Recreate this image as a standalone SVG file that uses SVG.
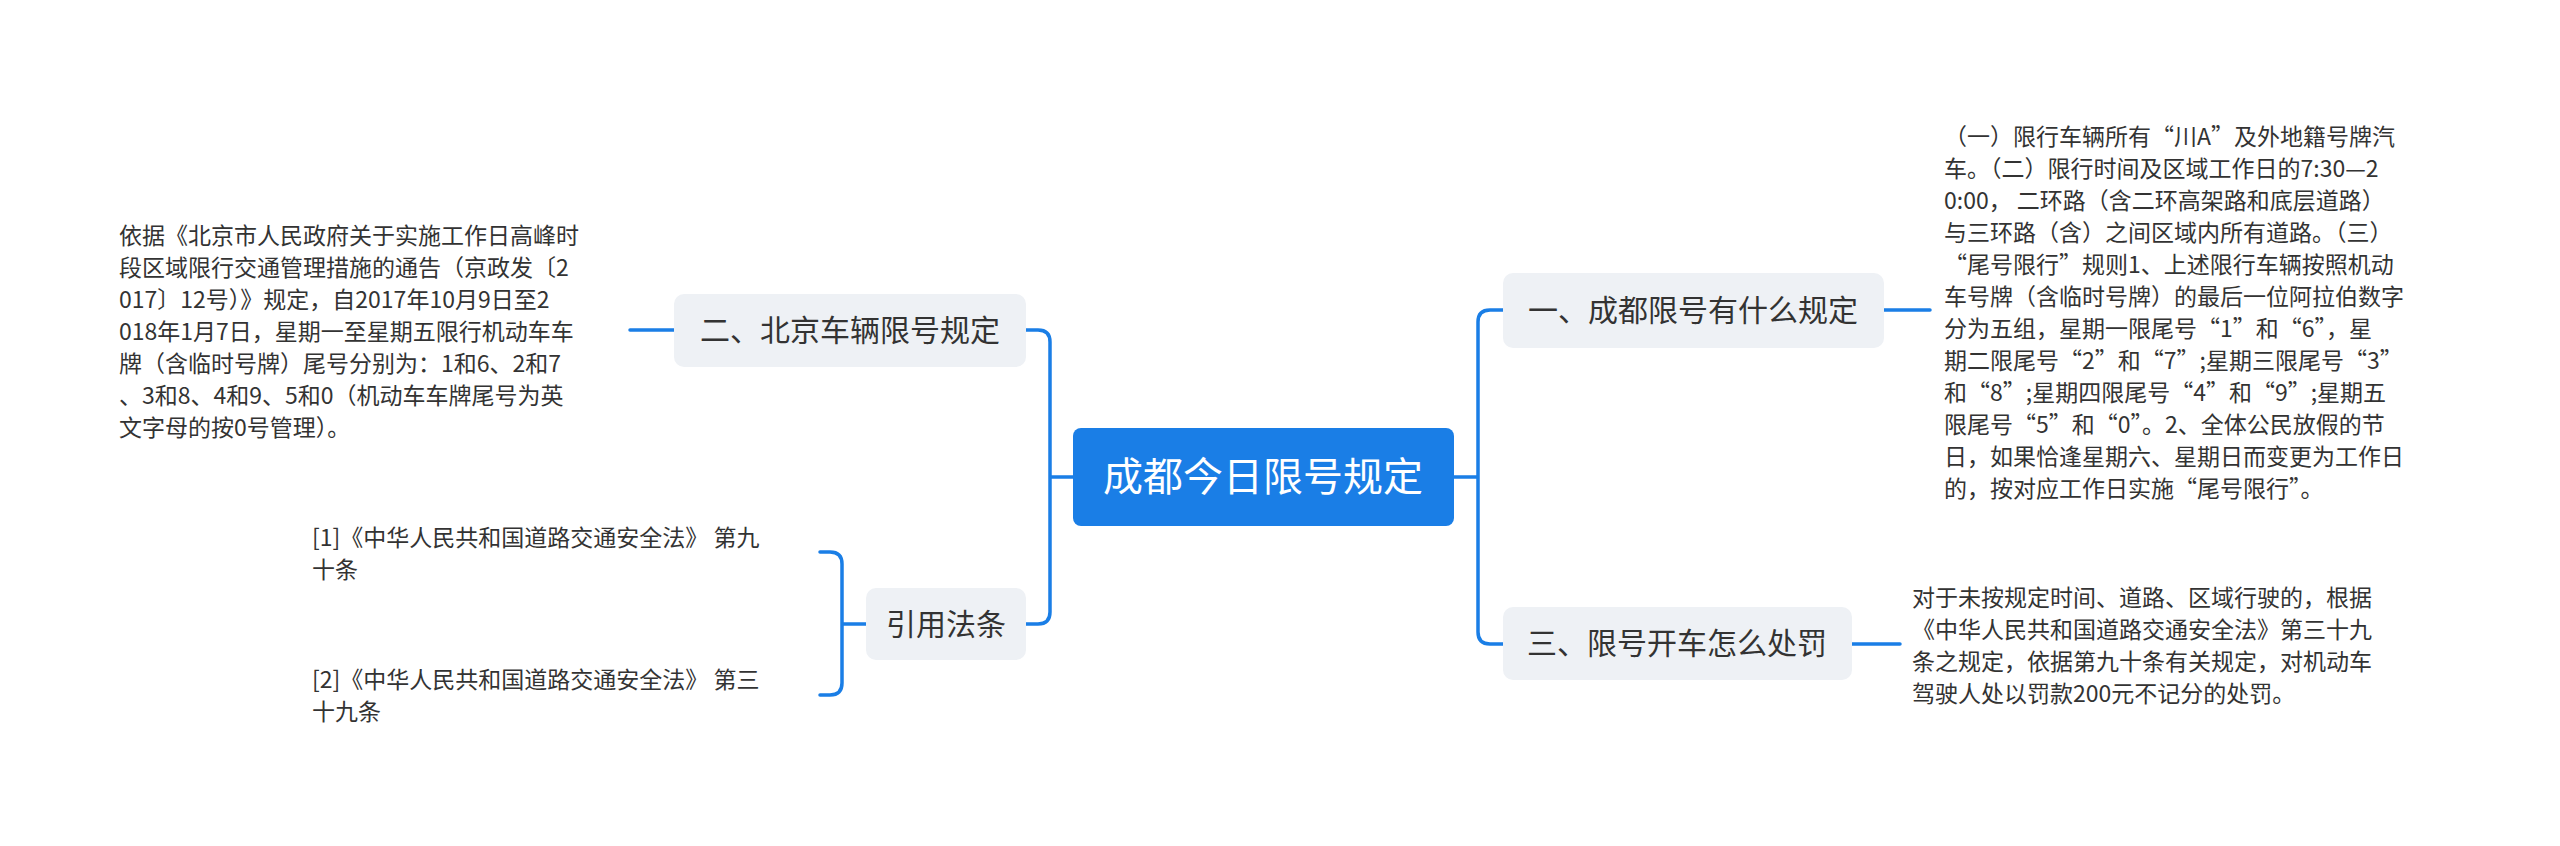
<svg xmlns="http://www.w3.org/2000/svg" width="2560" height="846" viewBox="0 0 2560 846">
<style>
.n{fill:#eef1f5}
.t{font-family:"Noto Sans CJK SC","Noto Sans",sans-serif;fill:#333}
.b{font-size:30px}
.s{font-size:23px}
.c{fill:none;stroke:#1a7ee6;stroke-width:3.5;stroke-linecap:round}
</style>
<rect width="2560" height="846" fill="#fff"/>
<g id="connectors">
<path class="c" d="M1073 477H1050M1026 330H1038Q1050 330 1050 342V612Q1050 624 1038 624H1026"/>
<path class="c" d="M1454 477H1478M1503 310H1490Q1478 310 1478 322V632Q1478 644 1490 644H1503"/>
<path class="c" d="M674 330H630"/>
<path class="c" d="M866 624H842M820 552H830Q842 552 842 564V683Q842 695 830 695H820"/>
<path class="c" d="M1884 310H1930"/>
<path class="c" d="M1852 644H1900"/>
</g>
<g id="center">
<rect x="1073" y="428" width="381" height="98" rx="8" fill="#1a7ee6"/>
<text x="1263" y="491" text-anchor="middle" font-size="40" font-family="Noto Sans CJK SC,sans-serif" fill="#fff">成都今日限号规定</text>
</g>
<g id="n2">
<rect class="n" x="674" y="294" width="352" height="73" rx="10"/>
<text class="t b" x="850" y="341" text-anchor="middle">二、北京车辆限号规定</text>
</g>
<g id="n4">
<rect class="n" x="866" y="588" width="160" height="72" rx="10"/>
<text class="t b" x="946" y="635" text-anchor="middle">引用法条</text>
</g>
<g id="n1">
<rect class="n" x="1503" y="273" width="381" height="75" rx="10"/>
<text class="t b" x="1693" y="321" text-anchor="middle">一、成都限号有什么规定</text>
</g>
<g id="n3">
<rect class="n" x="1503" y="607" width="349" height="73" rx="10"/>
<text class="t b" x="1677" y="654" text-anchor="middle">三、限号开车怎么处罚</text>
</g>
<g id="leftText">
<text class="t s" x="119"><tspan x="119" y="244">依据《北京市人民政府关于实施工作日高峰时</tspan><tspan x="119" y="276">段区域限行交通管理措施的通告（京政发〔2</tspan><tspan x="119" y="308">017〕12号）》规定，自2017年10月9日至2</tspan><tspan x="119" y="340">018年1月7日，星期一至星期五限行机动车车</tspan><tspan x="119" y="372">牌（含临时号牌）尾号分别为：1和6、2和7</tspan><tspan x="119" y="404">、3和8、4和9、5和0（机动车车牌尾号为英</tspan><tspan x="119" y="436">文字母的按0号管理）。</tspan></text>
</g>
<g id="cite1"><text class="t s" x="312"><tspan x="312" y="546">[1]《中华人民共和国道路交通安全法》 第九</tspan><tspan x="312" y="578">十条</tspan></text></g>
<g id="cite2"><text class="t s" x="312"><tspan x="312" y="688">[2]《中华人民共和国道路交通安全法》 第三</tspan><tspan x="312" y="720">十九条</tspan></text></g>
<g id="rightText">
<text class="t s" x="1944"><tspan x="1944" y="145">（一）限行车辆所有“川A”及外地籍号牌汽</tspan><tspan x="1944" y="177">车。（二）限行时间及区域工作日的7:30—2</tspan><tspan x="1944" y="209">0:00， 二环路（含二环高架路和底层道路）</tspan><tspan x="1944" y="241">与三环路（含）之间区域内所有道路。（三）</tspan><tspan x="1944" y="273">“尾号限行”规则1、上述限行车辆按照机动</tspan><tspan x="1944" y="305">车号牌（含临时号牌）的最后一位阿拉伯数字</tspan><tspan x="1944" y="337">分为五组，星期一限尾号“1”和“6”，星</tspan><tspan x="1944" y="369">期二限尾号“2”和“7”;星期三限尾号“3”</tspan><tspan x="1944" y="401">和“8”;星期四限尾号“4”和“9”;星期五</tspan><tspan x="1944" y="433">限尾号“5”和“0”。2、全体公民放假的节</tspan><tspan x="1944" y="465">日，如果恰逢星期六、星期日而变更为工作日</tspan><tspan x="1944" y="497">的，按对应工作日实施“尾号限行”。</tspan></text>
</g>
<g id="rightText2">
<text class="t s" x="1912"><tspan x="1912" y="606">对于未按规定时间、道路、区域行驶的，根据</tspan><tspan x="1912" y="638">《中华人民共和国道路交通安全法》第三十九</tspan><tspan x="1912" y="670">条之规定，依据第九十条有关规定，对机动车</tspan><tspan x="1912" y="702">驾驶人处以罚款200元不记分的处罚。</tspan></text>
</g>
</svg>
